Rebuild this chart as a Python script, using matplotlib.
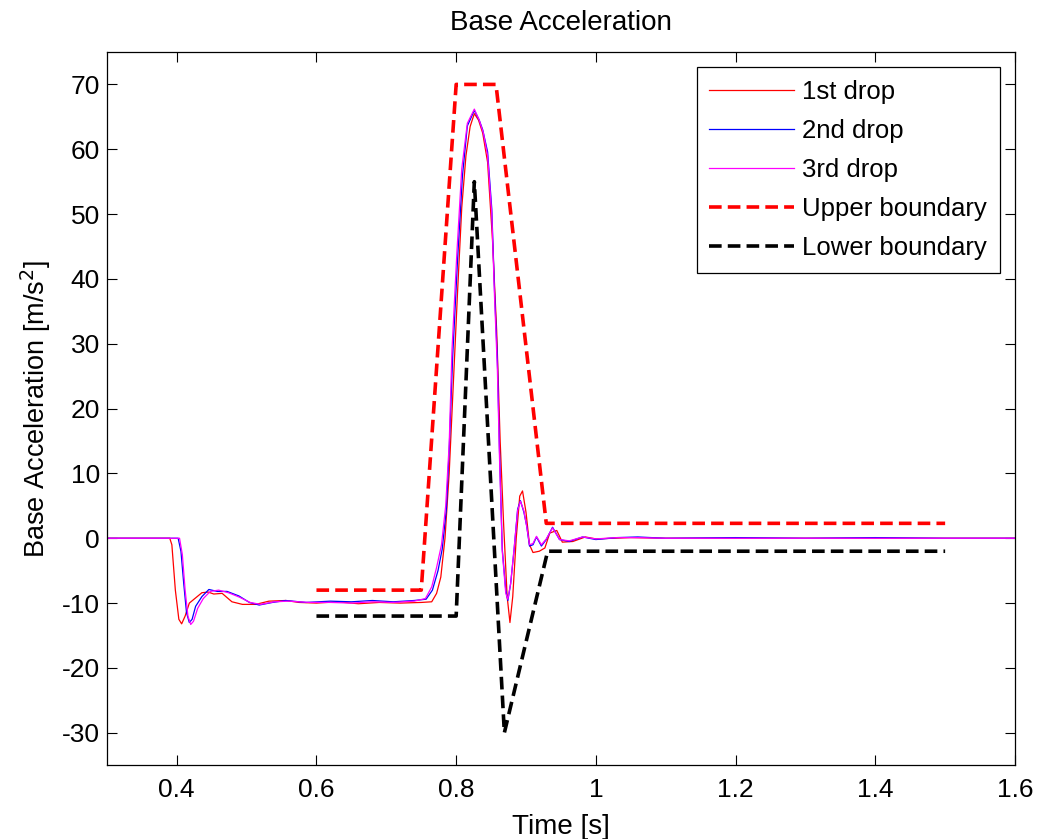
import matplotlib.pyplot as plt

plt.rcParams['font.family'] = ['Liberation Sans', 'DejaVu Sans']
plt.rcParams['axes.unicode_minus'] = False

# drop measurements (time [s], acceleration [m/s^2])
t1 = [0.3, 0.39, 0.393, 0.398, 0.403, 0.407, 0.412, 0.418, 0.427, 0.436, 0.445, 0.453,
      0.465, 0.479, 0.494, 0.513, 0.532, 0.556, 0.575, 0.6, 0.63, 0.66, 0.69, 0.72, 0.75,
      0.765, 0.772, 0.778, 0.784, 0.79, 0.796, 0.802, 0.808, 0.814, 0.82, 0.826, 0.832,
      0.838, 0.845, 0.852, 0.858, 0.863, 0.868, 0.873, 0.877, 0.881, 0.886, 0.891, 0.895,
      0.9, 0.905, 0.91, 0.919, 0.927, 0.934, 0.944, 0.952, 0.967, 0.985, 1.0, 1.05, 1.1,
      1.2, 1.3, 1.4, 1.5, 1.6]
a1 = [0, 0, -1, -8, -12.5, -13.2, -12, -10, -9.2, -8.4, -8.3, -8.6,
      -8.5, -9.8, -10.2, -10.2, -9.7, -9.6, -9.9, -10.0, -9.8, -10.1, -9.9, -10.0, -9.9,
      -9.8, -8.5, -6, 0, 10, 24, 38, 51, 59, 63.5, 65.5, 64.5,
      62.5, 58, 46, 32, 15, 2, -9, -13, -9, 0, 6.5, 7.3,
      4, -1, -2.2, -2, -1.5, 0.8, 1.2, -0.6, -0.5, 0.2, -0.1, 0.1, 0,
      0, 0, 0, 0, 0]

t2 = [0.3, 0.402, 0.406, 0.41, 0.414, 0.418, 0.422, 0.427, 0.436, 0.446, 0.458, 0.472,
      0.489, 0.504, 0.518, 0.537, 0.556, 0.585, 0.62, 0.65, 0.68, 0.71, 0.74, 0.757,
      0.766, 0.774, 0.78, 0.786, 0.79, 0.795, 0.802, 0.809, 0.816, 0.826, 0.833, 0.838,
      0.845, 0.851, 0.855, 0.859, 0.862, 0.866, 0.871, 0.874, 0.878, 0.883, 0.888, 0.892,
      0.897, 0.901, 0.905, 0.91, 0.915, 0.922, 0.929, 0.938, 0.948, 0.962, 0.981, 1.0,
      1.03, 1.06, 1.1, 1.2, 1.3, 1.4, 1.5, 1.6]
a2 = [0, 0, -2, -7, -11.5, -13, -12.5, -10.5, -9, -7.9, -8.2, -8.2,
      -8.9, -9.9, -10.3, -9.9, -9.6, -9.9, -9.7, -9.8, -9.6, -9.8, -9.6, -9.4,
      -8, -5, -1.7, 4.5, 13.7, 28, 43, 55.9, 63.6, 66, 64.5, 63,
      59.6, 50.8, 38, 27.6, 13.7, -1.7, -8, -9.6, -7, -1.7, 4.5, 5.8,
      4, 1.9, -1.2, -1, 0.2, -1.2, -0.2, 1.7, -0.2, -0.5, 0.2, -0.2,
      0.1, 0.2, 0, 0.1, 0, 0.1, 0, 0]

t3 = [0.3, 0.404, 0.408, 0.412, 0.416, 0.42, 0.424, 0.43, 0.438, 0.448, 0.46, 0.474,
      0.49, 0.505, 0.52, 0.54, 0.56, 0.59, 0.62, 0.65, 0.68, 0.71, 0.74, 0.756,
      0.765, 0.772, 0.779, 0.785, 0.79, 0.794, 0.801, 0.808, 0.816, 0.826, 0.833, 0.839,
      0.845, 0.851, 0.855, 0.859, 0.862, 0.866, 0.871, 0.874, 0.878, 0.883, 0.888, 0.892,
      0.897, 0.901, 0.905, 0.91, 0.915, 0.922, 0.929, 0.938, 0.948, 0.962, 0.981, 1.0,
      1.03, 1.06, 1.1, 1.2, 1.3, 1.4, 1.5, 1.6]
a3 = [0, 0, -2.5, -8, -12, -13.3, -12.8, -10.8, -9.3, -8.2, -8.0, -8.4,
      -9.1, -9.9, -10.2, -9.8, -9.7, -9.9, -9.9, -10.0, -9.8, -9.9, -9.7, -9.3,
      -7.5, -4.5, -1, 5, 14.5, 29, 44, 57, 64, 66.2, 64.5, 62.5,
      59, 50, 37, 26, 12.5, -2, -8.5, -9.4, -7, -1.5, 4.3, 5.7,
      4.2, 1.8, -1.0, -0.8, 0.3, -1.0, -0.1, 1.6, -0.2, -0.4, 0.2, -0.1,
      0.1, 0.1, 0, 0, 0, 0, 0, 0]

# shock boundaries
t_up = [0.6, 0.75, 0.8, 0.857, 0.929, 1.5]
a_up = [-8, -8, 70, 70, 2.3, 2.3]
t_lo = [0.6, 0.8, 0.826, 0.869, 0.931, 1.5]
a_lo = [-12, -12, 55, -30, -2, -2]

fig = plt.figure(figsize=(10.48, 8.39), dpi=100)
ax = fig.add_axes([0.102, 0.088, 0.8665, 0.85])

ax.plot(t1, a1, color='#ff0000', lw=0.9, label='1st drop')
ax.plot(t2, a2, color='#0000ff', lw=0.9, label='2nd drop')
ax.plot(t3, a3, color='#ff00ff', lw=0.9, label='3rd drop')
ax.plot(t_up, a_up, color='#ff0000', lw=2.6, dashes=(3.5, 1.7), label='Upper boundary')
ax.plot(t_lo, a_lo, color='black', lw=2.6, dashes=(3.5, 1.7), label='Lower boundary')

ax.set_xlim(0.3, 1.6)
ax.set_ylim(-35, 75)
ax.set_xticks([0.4, 0.6, 0.8, 1, 1.2, 1.4, 1.6])
ax.set_xticklabels(['0.4', '0.6', '0.8', '1', '1.2', '1.4', '1.6'])
ax.set_yticks(range(-30, 71, 10))
ax.tick_params(direction='in', top=True, right=True, labelsize=19, length=7)
ax.tick_params(axis='x', pad=9)
ax.tick_params(axis='y', pad=5)
for s in ax.spines.values():
    s.set_linewidth(0.9)

ax.set_title('Base Acceleration', fontsize=20, pad=16)
ax.set_xlabel('Time [s]', fontsize=20, labelpad=9)
ax.set_ylabel('Base Acceleration [m/s$^2$]', fontsize=19.5, labelpad=6)

leg = ax.legend(loc='upper right', fontsize=18.5, handlelength=3.3, labelspacing=0.58,
                fancybox=False, edgecolor='black', framealpha=1, borderaxespad=0.6,
                borderpad=0.5, handletextpad=0.3)
leg.get_frame().set_linewidth(0.9)

plt.savefig('out.png', dpi=100)
